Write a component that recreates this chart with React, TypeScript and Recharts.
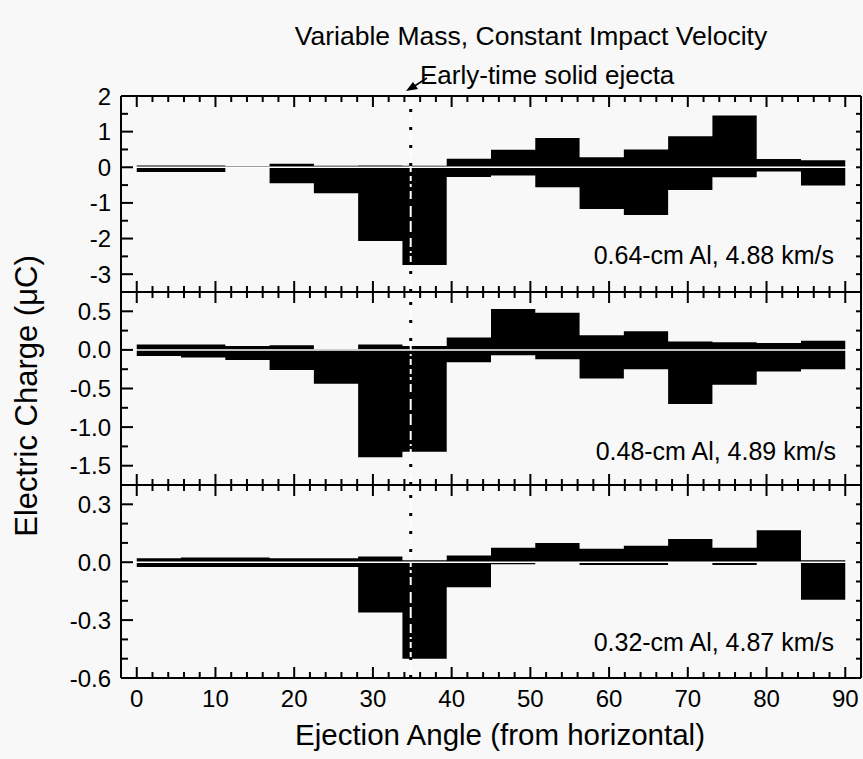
import React from 'react';
import { ComposedChart, Area, XAxis, YAxis, ReferenceLine } from 'recharts';

// histogram bin edges, ejection angle in degrees
const binEdges = [0, 5.625, 11.25, 16.875, 22.5, 28.125, 33.75, 39.375, 45, 50.625, 56.25, 61.875, 67.5, 73.125, 78.75, 84.375, 90];

// charge per bin (µC), positive and negative parts
const pos064 = [0.05, 0.05, 0.03, 0.1, 0.04, 0.05, 0.04, 0.24, 0.49, 0.82, 0.28, 0.5, 0.87, 1.45, 0.23, 0.2];
const neg064 = [-0.13, -0.13, 0, -0.45, -0.73, -2.07, -2.74, -0.27, -0.23, -0.56, -1.17, -1.34, -0.64, -0.28, -0.12, -0.51];

const pos048 = [0.07, 0.07, 0.05, 0.06, 0.01, 0.07, 0.05, 0.16, 0.53, 0.48, 0.19, 0.24, 0.11, 0.1, 0.09, 0.12];
const neg048 = [-0.08, -0.1, -0.13, -0.26, -0.44, -1.39, -1.32, -0.16, -0.07, -0.12, -0.37, -0.25, -0.7, -0.45, -0.28, -0.25];

const pos032 = [0.02, 0.025, 0.025, 0.02, 0.02, 0.03, 0.01, 0.035, 0.075, 0.1, 0.07, 0.085, 0.12, 0.075, 0.165, 0.01];
const neg032 = [-0.025, -0.025, -0.025, -0.025, -0.025, -0.26, -0.5, -0.13, -0.01, 0, -0.015, -0.015, 0, -0.015, 0, -0.195];

const xTicks = [0, 2, 4, 6, 8, 10, 12, 14, 16, 18, 20, 22, 24, 26, 28, 30, 32, 34, 36, 38, 40, 42, 44, 46, 48, 50, 52, 54, 56, 58, 60, 62, 64, 66, 68, 70, 72, 74, 76, 78, 80, 82, 84, 86, 88, 90];
const xLabels = [0, 10, 20, 30, 40, 50, 60, 70, 80, 90];

const yTicks064 = [-3, -2.5, -2, -1.5, -1, -0.5, 0, 0.5, 1, 1.5];
const yLabels064 = [-3, -2, -1, 0, 1, 2];
const yTicks048 = [-1.5, -1.25, -1, -0.75, -0.5, -0.25, 0, 0.25, 0.5];
const yLabels048 = [-1.5, -1, -0.5, 0, 0.5];
const yTicks032 = [-0.5, -0.4, -0.3, -0.2, -0.1, 0, 0.1, 0.2, 0.3];
const yLabels032 = [-0.6, -0.3, 0, 0.3];

const ejectaAngle = 34.8;

const W = 863;
const H = 759;
const PLOT_L = 121;
const PLOT_R = 861;
const FONT = "'Liberation Sans', Arial, sans-serif";
const LINE = { stroke: '#000', strokeWidth: 2 };
const TICK_TEXT = { fill: '#000', fontSize: 24, fontFamily: FONT };
const X_DOMAIN: [number, number] = [-2, 92];

const has = (arr: number[], v: number) => arr.some((a) => Math.abs(a - v) < 1e-9);

function Panel({ pos, neg, domain, ticks, labels, digits, top, bottom, showX }: any) {
  const rows = binEdges.map((x, i) => ({
    x,
    pos: pos[Math.min(i, pos.length - 1)],
    neg: neg[Math.min(i, neg.length - 1)],
  }));
  const [yMin, yMax] = domain;
  // data units per pixel, for inward tick marks
  const dy = (yMax - yMin) / (bottom - top);
  const dx = (X_DOMAIN[1] - X_DOMAIN[0]) / (PLOT_R - PLOT_L);
  const tickProps = { xAxisId: 'b', yAxisId: 'l', stroke: '#000', strokeWidth: 2, ifOverflow: 'visible' as const };

  const xMarks = xTicks.flatMap((v) => {
    const len = (has(xLabels, v) ? 11 : 6) * dy;
    return [
      <ReferenceLine key={`xb${v}`} {...tickProps} segment={[{ x: v, y: yMin }, { x: v, y: yMin + len }]} />,
      <ReferenceLine key={`xt${v}`} {...tickProps} segment={[{ x: v, y: yMax }, { x: v, y: yMax - len }]} />,
    ];
  });
  const yMarks = ticks.flatMap((v: number) => {
    const len = (has(labels, v) ? 12 : 7) * dx;
    return [
      <ReferenceLine key={`yl${v}`} {...tickProps} segment={[{ x: X_DOMAIN[0], y: v }, { x: X_DOMAIN[0] + len, y: v }]} />,
      <ReferenceLine key={`yr${v}`} {...tickProps} segment={[{ x: X_DOMAIN[1], y: v }, { x: X_DOMAIN[1] - 5 * dx, y: v }]} />,
    ];
  });

  return (
    <div style={{ position: 'absolute', left: 0, top: 0 }}>
      <ComposedChart
        width={W}
        height={H}
        data={rows}
        margin={{ top: top - 1, bottom: H - bottom - 1, left: PLOT_L - 1, right: W - PLOT_R - 1 }}
      >
        <XAxis xAxisId="b" dataKey="x" type="number" domain={X_DOMAIN} allowDataOverflow ticks={xLabels} interval={0}
          orientation="bottom" height={1} tickSize={0} tickMargin={12} axisLine={LINE} tickLine={false}
          tick={showX ? TICK_TEXT : false} />
        <XAxis xAxisId="t" type="number" domain={X_DOMAIN} allowDataOverflow ticks={xLabels} interval={0}
          orientation="top" height={1} axisLine={LINE} tickLine={false} tick={false} />
        <YAxis yAxisId="l" type="number" domain={domain} allowDataOverflow ticks={labels} interval={0}
          width={1} tickSize={0} tickMargin={10} axisLine={LINE} tickLine={false} tick={TICK_TEXT}
          tickFormatter={(v: number) => v.toFixed(digits)} />
        <YAxis yAxisId="r" orientation="right" type="number" domain={domain} allowDataOverflow ticks={labels} interval={0}
          width={1} axisLine={LINE} tickLine={false} tick={false} />
        <Area xAxisId="b" yAxisId="l" type="stepAfter" dataKey="pos" baseValue={0} fill="#000" fillOpacity={1}
          stroke="none" isAnimationActive={false} dot={false} activeDot={false} />
        <Area xAxisId="b" yAxisId="l" type="stepAfter" dataKey="neg" baseValue={0} fill="#000" fillOpacity={1}
          stroke="none" isAnimationActive={false} dot={false} activeDot={false} />
        <ReferenceLine xAxisId="b" yAxisId="l" y={0} stroke="#fff" strokeWidth={1.5} />
        <ReferenceLine xAxisId="b" yAxisId="l" x={ejectaAngle} stroke="#fff" strokeWidth={2} strokeDasharray="11 4" />
        <ReferenceLine xAxisId="b" yAxisId="l" x={ejectaAngle} stroke="#000" strokeWidth={3} strokeDasharray="3 15" />
        {xMarks}
        {yMarks}
      </ComposedChart>
    </div>
  );
}

export default function App() {
  return (
    <div style={{ position: 'absolute', left: 0, top: 0, width: W, height: H, background: '#f7f8f7', overflow: 'hidden' }}>
      <Panel pos={pos064} neg={neg064} domain={[-3.5, 2]} ticks={yTicks064} labels={yLabels064} digits={0} top={96} bottom={292} showX={false} />
      <Panel pos={pos048} neg={neg048} domain={[-1.75, 0.75]} ticks={yTicks048} labels={yLabels048} digits={1} top={292} bottom={485} showX={false} />
      <Panel pos={pos032} neg={neg032} domain={[-0.6, 0.4]} ticks={yTicks032} labels={yLabels032} digits={1} top={485} bottom={678} showX />
      <svg width={W} height={H} style={{ position: 'absolute', left: 0, top: 0, pointerEvents: 'none' }} fontFamily={FONT} fill="#000">
        <text x={531} y={45} textAnchor="middle" fontSize={26.5}>Variable Mass, Constant Impact Velocity</text>
        <text x={420} y={84} fontSize={26}>Early-time solid ejecta</text>
        <line x1={427} y1={78} x2={413} y2={87} stroke="#000" strokeWidth={1.5} />
        <polygon points="406,91 413,82 418,89" fill="#000" />
        <text x={500} y={745} textAnchor="middle" fontSize={29.5}>Ejection Angle (from horizontal)</text>
        <text transform="translate(37,396) rotate(-90)" textAnchor="middle" fontSize={31}>Electric Charge (μC)</text>
        <text x={834} y={264} textAnchor="end" fontSize={25}>0.64-cm Al, 4.88 km/s</text>
        <text x={836} y={460} textAnchor="end" fontSize={25}>0.48-cm Al, 4.89 km/s</text>
        <text x={834} y={651} textAnchor="end" fontSize={25}>0.32-cm Al, 4.87 km/s</text>
      </svg>
    </div>
  );
}
